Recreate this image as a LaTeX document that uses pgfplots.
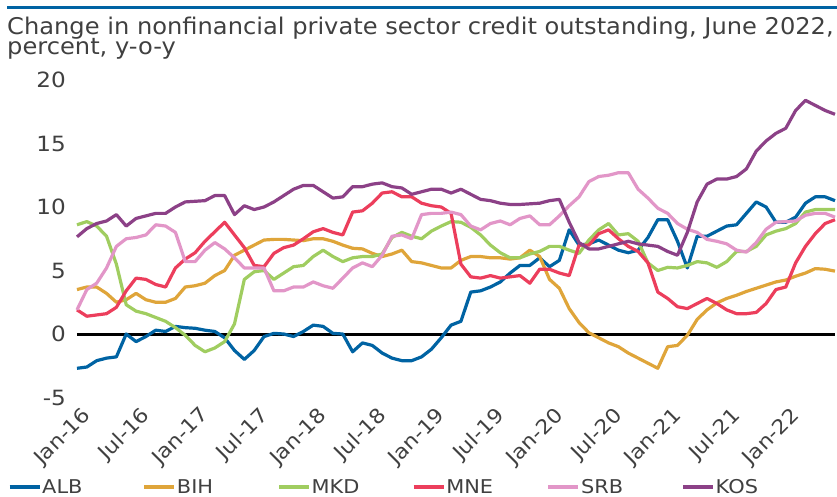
\documentclass[border=0pt]{standalone}
\usepackage{pgfplots}
\usepackage{pgfplotstable}
\pgfplotsset{compat=1.18}
\usepackage{fontspec}
\setmainfont{DejaVu Sans}[FakeStretch=1.1]
\newfontfamily\titlefont{DejaVu Sans}[FakeStretch=1.05]
\definecolor{alb}{RGB}{0,99,163}
\definecolor{bih}{RGB}{223,165,58}
\definecolor{mkd}{RGB}{160,205,96}
\definecolor{mne}{RGB}{236,62,92}
\definecolor{srb}{RGB}{226,150,200}
\definecolor{kos}{RGB}{140,65,135}
\definecolor{txt}{RGB}{64,64,64}
\pgfplotstableread{
m ALB BIH MKD MNE SRB KOS
0 -2.7 3.5 8.6 1.9 1.9 7.65
1 -2.6 3.7 8.85 1.4 3.5 8.3
2 -2.1 3.7 8.5 1.5 4.0 8.7
3 -1.9 3.2 7.7 1.6 5.2 8.9
4 -1.8 2.5 5.5 2.1 6.9 9.4
5 0.0 2.7 2.3 3.4 7.5 8.5
6 -0.6 3.2 1.8 4.4 7.6 9.1
7 -0.2 2.7 1.6 4.3 7.8 9.3
8 0.3 2.5 1.3 3.9 8.6 9.5
9 0.2 2.5 1.0 3.7 8.5 9.5
10 0.6 2.8 0.5 5.2 8.0 10.0
11 0.5 3.7 -0.1 5.9 5.7 10.4
12 0.45 3.8 -0.9 6.4 5.7 10.45
13 0.3 4.0 -1.4 7.3 6.6 10.5
14 0.2 4.6 -1.1 8.05 7.2 10.9
15 -0.3 5.0 -0.6 8.8 6.7 10.9
16 -1.3 6.2 0.8 7.8 6.0 9.4
17 -2.0 6.6 4.3 6.8 5.2 10.1
18 -1.3 7.0 4.9 5.4 5.2 9.8
19 -0.2 7.4 5.0 5.3 5.2 10.0
20 0.05 7.45 4.3 6.35 3.4 10.4
21 0.0 7.45 4.8 6.8 3.4 10.9
22 -0.2 7.4 5.3 7.0 3.7 11.4
23 0.2 7.35 5.4 7.5 3.7 11.7
24 0.7 7.5 6.1 8.05 4.1 11.7
25 0.6 7.5 6.6 8.3 3.8 11.2
26 0.05 7.3 6.1 8.0 3.6 10.7
27 0.0 7.0 5.7 7.8 4.4 10.8
28 -1.4 6.75 6.0 9.6 5.2 11.6
29 -0.7 6.7 6.1 9.7 5.6 11.6
30 -0.9 6.35 6.1 10.3 5.3 11.8
31 -1.5 6.1 6.3 11.1 6.2 11.9
32 -1.9 6.3 7.6 11.2 7.7 11.6
33 -2.1 6.6 8.0 10.8 7.8 11.5
34 -2.1 5.7 7.7 10.8 7.5 11.0
35 -1.8 5.6 7.5 10.3 9.4 11.2
36 -1.2 5.4 8.1 10.1 9.5 11.4
37 -0.3 5.2 8.5 10.0 9.5 11.4
38 0.7 5.2 8.85 9.5 9.6 11.1
39 1.0 5.8 8.8 5.5 9.4 11.4
40 3.3 6.1 8.4 4.5 8.5 11.0
41 3.4 6.1 7.8 4.4 8.2 10.6
42 3.7 6.0 7.0 4.6 8.7 10.5
43 4.1 6.0 6.4 4.4 8.9 10.3
44 4.8 5.9 6.0 4.5 8.6 10.2
45 5.4 6.0 6.0 4.6 9.1 10.2
46 5.4 6.6 6.3 4.0 9.3 10.25
47 6.0 6.1 6.5 5.1 8.6 10.3
48 5.3 4.3 6.9 5.1 8.6 10.5
49 5.8 3.6 6.9 4.8 9.3 10.6
50 8.2 2.0 6.6 4.6 10.1 8.8
51 7.0 0.9 6.35 7.0 10.8 7.2
52 7.1 0.1 7.4 7.0 12.0 6.7
53 7.4 -0.3 8.2 7.9 12.4 6.7
54 7.0 -0.7 8.7 8.2 12.5 6.9
55 6.6 -1.0 7.8 7.5 12.7 7.1
56 6.4 -1.5 7.9 6.9 12.7 7.3
57 6.6 -1.9 7.3 6.5 11.4 7.1
58 7.6 -2.3 5.6 5.6 10.7 7.0
59 9.0 -2.7 5.0 3.3 9.9 6.9
60 9.0 -1.0 5.25 2.8 9.5 6.5
61 7.3 -0.9 5.2 2.15 8.7 6.2
62 5.2 -0.1 5.4 2.0 8.25 8.0
63 7.7 1.15 5.7 2.4 8.0 10.4
64 7.7 1.9 5.6 2.8 7.45 11.8
65 8.1 2.45 5.25 2.4 7.3 12.2
66 8.5 2.8 5.7 1.9 7.1 12.2
67 8.6 3.05 6.5 1.6 6.6 12.4
68 9.5 3.35 6.5 1.6 6.45 13.0
69 10.4 3.6 6.9 1.7 7.2 14.4
70 10.0 3.85 7.8 2.4 8.25 15.2
71 8.8 4.1 8.1 3.5 8.8 15.8
72 8.8 4.25 8.3 3.7 8.85 16.2
73 9.2 4.55 8.7 5.6 8.9 17.6
74 10.3 4.8 9.6 6.9 9.35 18.4
75 10.8 5.15 9.8 7.9 9.5 18.0
76 10.8 5.1 9.8 8.7 9.5 17.6
77 10.5 4.95 9.8 9.0 9.2 17.3
}\datatable
\begin{document}
\begin{tikzpicture}[x=1pt,y=1pt]
\path[use as bounding box] (0,0) rectangle (837,496);
\fill[alb] (7,487) rectangle (837,490);
\node[anchor=base west, inner sep=0pt, text=txt, font=\titlefont\fontsize{23}{25}\selectfont] at (7,461) {Change in nonfinancial private sector credit outstanding, June 2022,};
\node[anchor=base west, inner sep=0pt, text=txt, font=\titlefont\fontsize{23}{25}\selectfont] at (7,441) {percent, y-o-y};
\begin{axis}[
  at={(77pt,98.5pt)}, anchor=south west,
  scale only axis, width=758pt, height=317.5pt,
  xmin=0, xmax=77, ymin=-5, ymax=20,
  ytick={-5,0,5,10,15,20},
  xtick={0,6,12,18,24,30,36,42,48,54,60,66,72},
  xticklabels={Jan-16,Jul-16,Jan-17,Jul-17,Jan-18,Jul-18,Jan-19,Jul-19,Jan-20,Jul-20,Jan-21,Jul-21,Jan-22},
  axis line style={draw=none},
  major tick length=0pt,
  /pgf/number format/assume math mode=true,
  tick label style={text=txt},
  xticklabel style={font=\fontsize{20}{22}\selectfont, xshift=4pt, yshift=-8pt, rotate=45, anchor=north east, inner sep=0pt},
  yticklabel style={font=\fontsize{21}{23}\selectfont, anchor=east, inner sep=0pt, xshift=-11pt},
  clip=false,
  every axis plot/.append style={line width=3.2pt, line join=round},
  legend columns=6,
  legend image code/.code={\draw[#1, line width=3.2pt] (0pt,0pt) -- (30pt,0pt);},
  legend style={at={(axis description cs:-0.0910,-0.2819)}, anchor=west, draw=none, fill=none,
    inner sep=0pt, outer sep=0pt, column sep=0pt, font=\fontsize{19}{21}\selectfont, text=txt,
    nodes={inner xsep=1pt, inner ysep=0pt}},
]
\addplot[black, line width=3pt, forget plot] coordinates {(0,0) (77,0)};
\addplot[alb] table[x=m, y=ALB] {\datatable};
\addlegendentry{\makebox[99.5pt][l]{ALB}}
\addplot[bih] table[x=m, y=BIH] {\datatable};
\addlegendentry{\makebox[99.5pt][l]{BIH}}
\addplot[mkd] table[x=m, y=MKD] {\datatable};
\addlegendentry{\makebox[99.5pt][l]{MKD}}
\addplot[mne] table[x=m, y=MNE] {\datatable};
\addlegendentry{\makebox[99.5pt][l]{MNE}}
\addplot[srb] table[x=m, y=SRB] {\datatable};
\addlegendentry{\makebox[99.5pt][l]{SRB}}
\addplot[kos] table[x=m, y=KOS] {\datatable};
\addlegendentry{\makebox[99.5pt][l]{KOS}}
\end{axis}
\end{tikzpicture}
\end{document}
